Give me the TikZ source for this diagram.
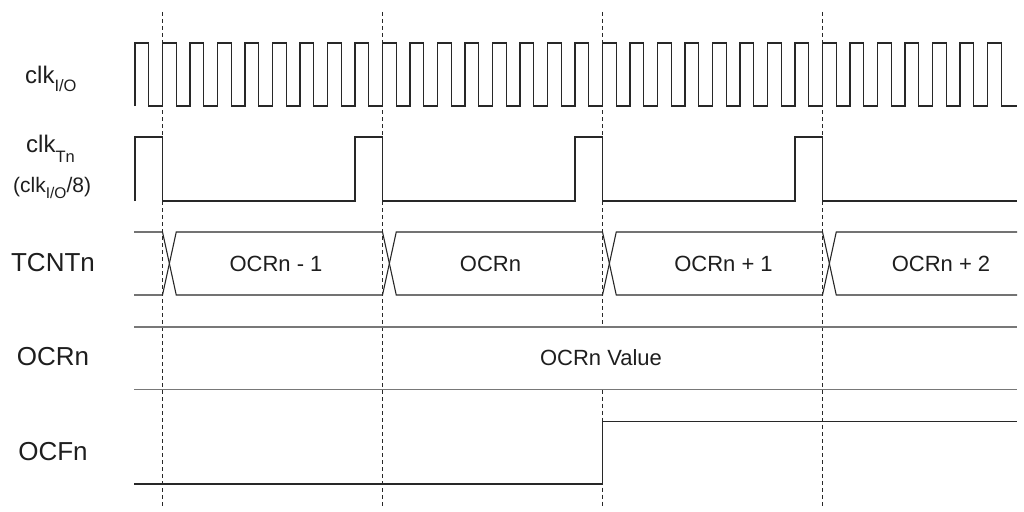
\documentclass[tikz,border=0pt]{standalone}
\usepackage{fontspec}
\setmainfont{Liberation Sans}
\definecolor{sig}{RGB}{40,40,40}
\definecolor{txt}{RGB}{30,30,30}
\definecolor{bus}{RGB}{120,120,120}
\begin{document}
\begin{tikzpicture}[x=1pt,y=-1pt,
  signal/.style={draw=sig,line width=1.1pt,line join=miter},
  busline/.style={draw=bus,line width=1.6pt},
  guide/.style={draw=sig,line width=0.8pt,dash pattern=on 4pt off 3pt},
  rowlabel/.style={text=txt,font=\fontsize{26}{28}\selectfont,inner sep=0pt},
  vallabel/.style={text=txt,font=\fontsize{22}{24}\selectfont,inner sep=0pt},
  clklabel/.style={text=txt,font=\fontsize{24}{26}\selectfont,inner sep=0pt,anchor=base west}]
\useasboundingbox (0,0) rectangle (1024,511);
\def\ha{13.75}
% guides
\foreach \d/\n in {162.5/0,382.5/1,822.5/3}{
  \coordinate (gt\n) at (\d,12);
  \coordinate (gb\n) at (\d,507);
  \draw[guide] (gt\n) -- (gb\n);
}
\coordinate (gt2) at (602.5,12);
\coordinate (gm2a) at (602.5,327);
\coordinate (gm2b) at (602.5,389.5);
\coordinate (gb2) at (602.5,507);
\draw[guide] (gt2) -- (gm2a);
\draw[guide] (gm2b) -- (gb2);
% clk I/O
\coordinate (ck0) at (135,106);
\draw[signal] (ck0) \foreach \k in {0,...,31}{ -- ++(0,-63) -- ++(\ha,0) -- ++(0,63) -- ++(\ha,0)} -- ++(2,0);
% clk Tn
\draw[signal] (135,201) -- (135,137) -- (162.5,137) -- (162.5,201) -- (355,201) -- (355,137) -- (382.5,137) -- (382.5,201)
  -- (575,201) -- (575,137) -- (602.5,137) -- (602.5,201) -- (795,201) -- (795,137) -- (822.5,137) -- (822.5,201) -- (1017,201);
% TCNTn
\draw[signal] (134,232) -- (162.5,232) -- (176.25,295) -- (382.5,295) -- (396.25,232) -- (602.5,232) -- (616.25,295) -- (822.5,295) -- (836.25,232) -- (1017,232);
\draw[signal] (134,295) -- (162.5,295) -- (176.25,232) -- (382.5,232) -- (396.25,295) -- (602.5,295) -- (616.25,232) -- (822.5,232) -- (836.25,295) -- (1017,295);
% OCRn
\draw[busline] (134,327) -- (1017,327);
\draw[busline] (134,389.5) -- (1017,389.5);
% OCFn
\draw[signal] (134,484) -- (602.5,484) -- (602.5,421.5) -- (1017,421.5);
% labels
\node[clklabel] (lclkio) at (25,83) {clk\raisebox{-8.5pt}{\fontsize{16.5}{17}\selectfont I/O}};
\node[clklabel] (lclktn) at (26,152) {clk\raisebox{-10pt}{\fontsize{16.5}{17}\selectfont Tn}};
\node[text=txt,inner sep=0pt,anchor=base west,font=\fontsize{21}{22}\selectfont] (lclkdiv) at (13,192) {(clk\raisebox{-6.5pt}{\fontsize{15.5}{16}\selectfont I/O}/8)};
\node[rowlabel] (ltcnt) at (53,263) {TCNTn};
\node[rowlabel] (locr) at (53,357) {OCRn};
\node[rowlabel] (locf) at (53,452) {OCFn};
\node[vallabel] (v1) at (276,264) {OCRn - 1};
\node[vallabel] (v2) at (490.5,264) {OCRn};
\node[vallabel] (v3) at (723.5,264) {OCRn + 1};
\node[vallabel] (v4) at (941,264) {OCRn + 2};
\node[vallabel] (v5) at (601,358) {OCRn Value};
\end{tikzpicture}
\end{document}
